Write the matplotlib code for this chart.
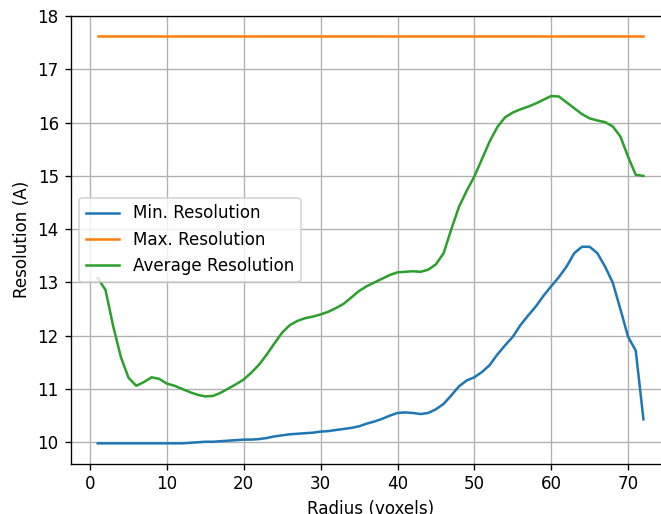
import matplotlib
matplotlib.use('Agg')
import matplotlib.pyplot as plt
import numpy as np

radius = np.arange(1, 73)

min_res = [9.98, 9.98, 9.98, 9.98, 9.98, 9.98, 9.98, 9.98, 9.98, 9.98,
           9.98, 9.98, 9.99, 10.0, 10.01, 10.01, 10.02, 10.03, 10.04, 10.05,
           10.05, 10.06, 10.08, 10.11, 10.13, 10.15, 10.16, 10.17, 10.18, 10.2,
           10.21, 10.23, 10.25, 10.27, 10.3, 10.35, 10.39, 10.44, 10.5, 10.55,
           10.56, 10.55, 10.53, 10.55, 10.62, 10.72, 10.88, 11.05, 11.16, 11.22,
           11.32, 11.45, 11.65, 11.82, 11.98, 12.2, 12.38, 12.55, 12.75, 12.93,
           13.1, 13.3, 13.55, 13.67, 13.67, 13.55, 13.3, 13.0, 12.5, 11.98,
           11.72, 10.43]

max_res = [17.62] * len(radius)

avg_res = [13.08, 12.86, 12.18, 11.6, 11.21, 11.06, 11.13, 11.22, 11.19, 11.1,
           11.06, 11.0, 10.94, 10.89, 10.86, 10.87, 10.93, 11.01, 11.09, 11.18,
           11.31, 11.46, 11.65, 11.86, 12.06, 12.2, 12.28, 12.33, 12.36, 12.4,
           12.45, 12.52, 12.6, 12.72, 12.84, 12.93, 13.0, 13.07, 13.14, 13.19,
           13.2, 13.21, 13.2, 13.24, 13.34, 13.55, 14.0, 14.42, 14.72, 14.99,
           15.32, 15.65, 15.92, 16.1, 16.19, 16.25, 16.3, 16.36, 16.43, 16.5,
           16.49, 16.38, 16.27, 16.16, 16.08, 16.04, 16.01, 15.93, 15.74, 15.36,
           15.02, 15.0]

# screenshot looks like a default figure shown at ~121 dpi, cropped on the right
dpi = 121
fig = plt.figure(figsize=(661 / dpi, 514 / dpi), dpi=dpi)
ax = fig.add_axes([0.1067, 0.0979, 0.908, 0.871])

ax.plot(radius, min_res, label='Min. Resolution')
ax.plot(radius, max_res, label='Max. Resolution')
ax.plot(radius, avg_res, label='Average Resolution')

ax.set_xlabel('Radius (voxels)')
ax.set_ylabel('Resolution (A)')
ax.grid(True)
ax.legend(loc='center left')

fig.savefig('out.png', dpi=dpi)
